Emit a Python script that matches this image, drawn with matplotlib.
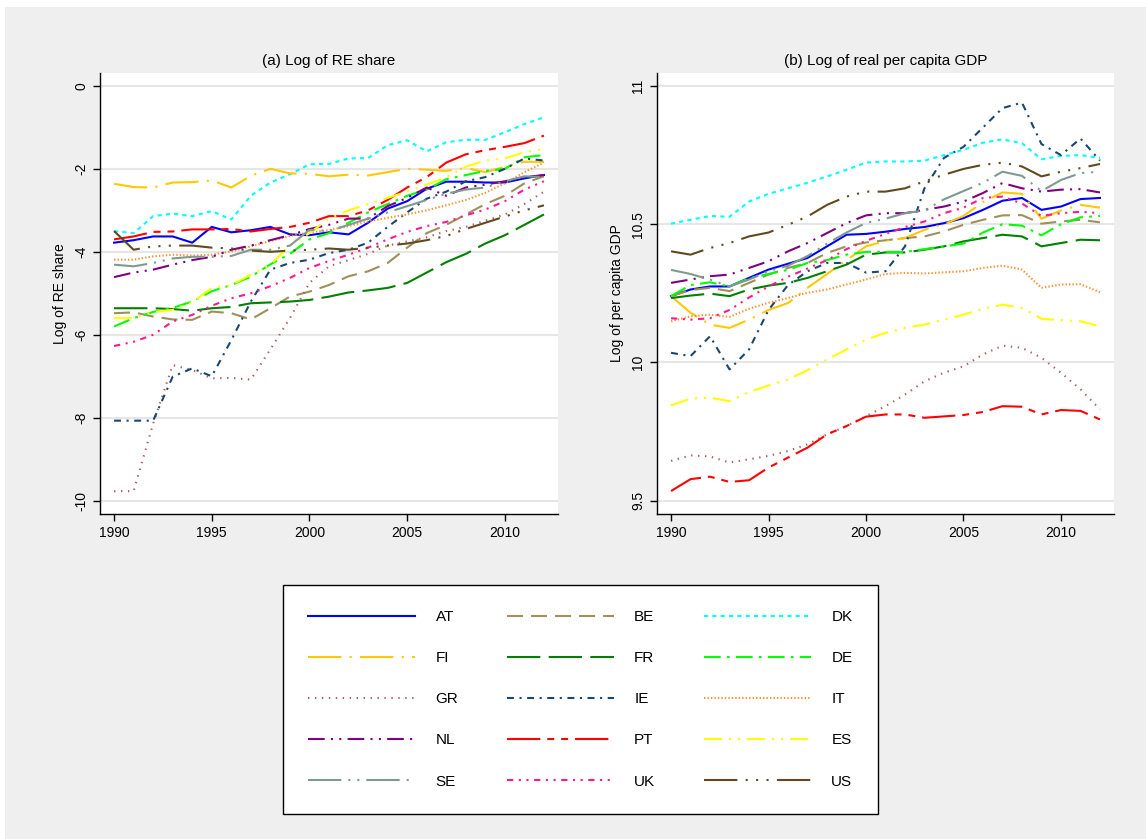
import matplotlib
matplotlib.use("Agg")
import matplotlib.pyplot as plt
from matplotlib.patches import Rectangle

plt.rcParams['font.family'] = ['Liberation Sans', 'DejaVu Sans']
plt.rcParams['lines.scale_dashes'] = False
plt.rcParams['axes.unicode_minus'] = False

years = list(range(1990, 2013))
countries = ["AT", "BE", "DK", "FI", "FR", "DE", "GR", "IE",
             "IT", "NL", "PT", "ES", "SE", "UK", "US"]

# (a) log of RE share
re_at = [-3.78, -3.72, -3.63, -3.63, -3.78, -3.40, -3.53, -3.48, -3.40, -3.58, -3.60, -3.53,
         -3.58, -3.30, -2.96, -2.78, -2.48, -2.31, -2.31, -2.33, -2.33, -2.23, -2.15]
re_be = [-5.48, -5.46, -5.56, -5.63, -5.64, -5.44, -5.48, -5.63, -5.36, -5.08, -4.96, -4.80,
         -4.59, -4.47, -4.27, -3.90, -3.55, -3.35, -3.10, -2.85, -2.65, -2.35, -2.18]
re_dk = [-3.50, -3.55, -3.14, -3.08, -3.14, -3.02, -3.22, -2.65, -2.33, -2.13, -1.89, -1.88,
         -1.75, -1.74, -1.43, -1.31, -1.58, -1.36, -1.30, -1.30, -1.12, -0.92, -0.76]
re_fi = [-2.36, -2.44, -2.45, -2.33, -2.32, -2.28, -2.45, -2.17, -2.00, -2.11, -2.12, -2.18,
         -2.14, -2.16, -2.08, -2.00, -2.02, -2.05, -1.98, -2.08, -1.95, -1.83, -1.83]
re_fr = [-5.36, -5.36, -5.36, -5.38, -5.42, -5.36, -5.33, -5.24, -5.22, -5.20, -5.16, -5.08,
         -4.98, -4.93, -4.87, -4.75, -4.50, -4.25, -4.05, -3.80, -3.60, -3.35, -3.10]
re_de = [-5.80, -5.60, -5.45, -5.35, -5.20, -4.95, -4.80, -4.60, -4.30, -4.05, -3.70, -3.55,
         -3.30, -3.05, -2.85, -2.65, -2.50, -2.25, -2.15, -2.05, -2.00, -1.72, -1.67]
re_gr = [-9.77, -9.77, -8.14, -6.73, -6.85, -7.05, -7.04, -7.08, -6.35, -5.60, -4.75, -4.35,
         -4.20, -4.05, -3.85, -3.75, -3.65, -3.50, -3.40, -3.25, -3.10, -2.85, -2.55]
re_ie = [-8.07, -8.07, -8.07, -7.01, -6.81, -7.00, -6.13, -5.20, -4.43, -4.27, -4.19, -4.03,
         -3.95, -3.78, -3.40, -3.05, -2.72, -2.55, -2.30, -2.20, -2.00, -1.75, -1.80]
re_it = [-4.19, -4.19, -4.11, -4.07, -4.09, -4.07, -3.99, -3.87, -3.74, -3.62, -3.53, -3.48,
         -3.38, -3.27, -3.18, -3.10, -3.00, -2.88, -2.75, -2.58, -2.35, -2.08, -1.85]
re_nl = [-4.61, -4.50, -4.43, -4.31, -4.20, -4.12, -3.95, -3.85, -3.72, -3.60, -3.45, -3.35,
         -3.20, -3.20, -2.90, -2.70, -2.45, -2.65, -2.45, -2.38, -2.30, -2.20, -2.15]
re_pt = [-3.70, -3.63, -3.52, -3.51, -3.46, -3.46, -3.45, -3.51, -3.45, -3.40, -3.30, -3.14,
         -3.14, -3.00, -2.75, -2.45, -2.20, -1.85, -1.65, -1.55, -1.47, -1.38, -1.20]
re_es = [-5.60, -5.60, -5.45, -5.40, -5.22, -4.87, -4.80, -4.55, -4.31, -3.85, -3.55, -3.20,
         -3.00, -2.85, -2.70, -2.55, -2.38, -2.20, -1.95, -1.80, -1.75, -1.60, -1.52]
re_se = [-4.31, -4.35, -4.27, -4.16, -4.12, -4.12, -4.10, -3.95, -3.95, -3.85, -3.47, -3.50,
         -3.35, -3.20, -3.05, -2.90, -2.75, -2.60, -2.50, -2.45, -2.30, -2.18, -2.20]
re_uk = [-6.27, -6.17, -6.00, -5.68, -5.52, -5.30, -5.12, -5.00, -4.83, -4.63, -4.39, -4.22,
         -4.07, -3.90, -3.70, -3.52, -3.38, -3.28, -3.12, -2.98, -2.78, -2.50, -2.30]
re_us = [-3.50, -3.95, -3.87, -3.85, -3.85, -3.90, -3.92, -3.97, -4.00, -3.97, -3.95, -3.92,
         -3.95, -3.90, -3.85, -3.80, -3.72, -3.62, -3.45, -3.30, -3.15, -3.00, -2.88]

# (b) log of real per capita GDP
gdp_at = [10.240, 10.264, 10.275, 10.275, 10.306, 10.336, 10.357, 10.378, 10.420, 10.462, 10.465, 10.473,
          10.483, 10.490, 10.504, 10.522, 10.552, 10.585, 10.595, 10.552, 10.564, 10.591, 10.595]
gdp_be = [10.240, 10.262, 10.270, 10.258, 10.288, 10.318, 10.342, 10.360, 10.396, 10.420, 10.434, 10.442,
          10.450, 10.456, 10.474, 10.498, 10.516, 10.532, 10.533, 10.502, 10.510, 10.516, 10.507]
gdp_dk = [10.502, 10.516, 10.530, 10.527, 10.582, 10.610, 10.630, 10.650, 10.673, 10.697, 10.723, 10.727,
          10.727, 10.730, 10.750, 10.769, 10.795, 10.807, 10.793, 10.735, 10.747, 10.750, 10.740]
gdp_fi = [10.240, 10.180, 10.137, 10.125, 10.155, 10.190, 10.215, 10.270, 10.320, 10.370, 10.420, 10.440,
          10.450, 10.480, 10.500, 10.530, 10.580, 10.615, 10.610, 10.520, 10.550, 10.570, 10.560]
gdp_fr = [10.233, 10.242, 10.249, 10.240, 10.264, 10.278, 10.288, 10.306, 10.330, 10.354, 10.390, 10.398,
          10.398, 10.408, 10.420, 10.438, 10.450, 10.462, 10.456, 10.420, 10.432, 10.444, 10.442]
gdp_de = [10.240, 10.280, 10.290, 10.275, 10.305, 10.320, 10.335, 10.360, 10.370, 10.390, 10.400, 10.400,
          10.400, 10.410, 10.420, 10.430, 10.470, 10.500, 10.495, 10.460, 10.500, 10.525, 10.530]
gdp_gr = [9.644, 9.664, 9.660, 9.638, 9.650, 9.662, 9.680, 9.704, 9.740, 9.770, 9.806, 9.842,
          9.884, 9.932, 9.963, 9.986, 10.029, 10.061, 10.053, 10.017, 9.963, 9.903, 9.830]
gdp_ie = [10.035, 10.023, 10.095, 9.975, 10.047, 10.190, 10.280, 10.330, 10.360, 10.360, 10.325, 10.330,
          10.420, 10.630, 10.740, 10.780, 10.850, 10.920, 10.940, 10.790, 10.750, 10.810, 10.730]
gdp_it = [10.149, 10.167, 10.173, 10.165, 10.194, 10.216, 10.233, 10.252, 10.264, 10.282, 10.300, 10.320,
          10.324, 10.322, 10.326, 10.330, 10.342, 10.350, 10.336, 10.270, 10.282, 10.283, 10.254]
gdp_nl = [10.288, 10.300, 10.312, 10.318, 10.342, 10.366, 10.402, 10.432, 10.468, 10.504, 10.532, 10.540,
          10.540, 10.552, 10.564, 10.582, 10.613, 10.649, 10.630, 10.618, 10.625, 10.627, 10.615]
gdp_pt = [9.535, 9.578, 9.587, 9.568, 9.574, 9.620, 9.656, 9.692, 9.740, 9.770, 9.804, 9.812,
          9.812, 9.800, 9.805, 9.810, 9.821, 9.842, 9.840, 9.812, 9.828, 9.825, 9.794]
gdp_es = [9.845, 9.869, 9.873, 9.860, 9.893, 9.917, 9.939, 9.972, 10.011, 10.047, 10.083, 10.107,
          10.125, 10.137, 10.155, 10.173, 10.194, 10.209, 10.197, 10.158, 10.153, 10.149, 10.131]
gdp_se = [10.335, 10.320, 10.300, 10.275, 10.300, 10.330, 10.350, 10.385, 10.430, 10.470, 10.505, 10.520,
          10.540, 10.550, 10.590, 10.620, 10.650, 10.690, 10.675, 10.620, 10.660, 10.685, 10.690]
gdp_uk = [10.160, 10.155, 10.160, 10.190, 10.235, 10.275, 10.310, 10.340, 10.370, 10.410, 10.440, 10.465,
          10.490, 10.510, 10.540, 10.560, 10.595, 10.600, 10.575, 10.530, 10.540, 10.545, 10.540]
gdp_us = [10.402, 10.390, 10.414, 10.432, 10.456, 10.470, 10.498, 10.528, 10.570, 10.600, 10.618, 10.618,
          10.630, 10.655, 10.679, 10.700, 10.715, 10.723, 10.709, 10.673, 10.690, 10.703, 10.718]

re_series = [re_at, re_be, re_dk, re_fi, re_fr, re_de, re_gr, re_ie,
             re_it, re_nl, re_pt, re_es, re_se, re_uk, re_us]
gdp_series = [gdp_at, gdp_be, gdp_dk, gdp_fi, gdp_fr, gdp_de, gdp_gr, gdp_ie,
              gdp_it, gdp_nl, gdp_pt, gdp_es, gdp_se, gdp_uk, gdp_us]

colors = ['#0000ff', '#a08f5c', '#00ffff', '#ffc800', '#008000', '#00ff00', '#a86060', '#1a476f',
          '#ff9030', '#800080', '#ff0000', '#ffff00', '#7f9a90', '#ff1a8c', '#604a1e']
# dash patterns in points
styles = ['-',
          (0, (11.5, 5.8)),
          (0, (3, 3)),
          (0, (24, 6, 1.5, 6)),
          (0, (24, 6)),
          (0, (12, 4.5, 2, 4.5)),
          (0, (1, 4)),
          (0, (5, 4, 1.5, 4)),
          (0, (1, 1.5)),
          (0, (12, 4.5, 1.5, 4.5, 1.5, 4.5)),
          (0, (24, 5, 5, 5, 5, 5)),
          (0, (13, 5, 1.5, 5, 1.5, 5)),
          (0, (24, 5, 1.5, 5, 1.5, 5)),
          (0, (4.5, 4, 1.5, 4, 1.5, 4)),
          (0, (24, 6, 1.5, 6, 1.5, 6, 1.5, 6))]

W, H = 1146, 839
fig = plt.figure(figsize=(W / 100, H / 100), dpi=100, facecolor='white')
fig.patches.append(Rectangle((5 / W, 0), 1, 1 - 7 / H, transform=fig.transFigure,
                             facecolor='#efefef', edgecolor='none', zorder=-10))

ax1 = fig.add_axes([100 / W, 1 - 514 / H, 458 / W, 441 / H])
ax2 = fig.add_axes([657 / W, 1 - 514 / H, 457 / W, 441 / H])

handles = []
for i in range(len(countries)):
    h, = ax1.plot(years, re_series[i], color=colors[i], linestyle=styles[i], lw=1.5, label=countries[i])
    ax2.plot(years, gdp_series[i], color=colors[i], linestyle=styles[i], lw=1.5)
    handles.append(h)

ax1.set_ylim(-10.32, 0.31)
ax1.set_yticks([0, -2, -4, -6, -8, -10])
ax1.set_title("(a) Log of RE share", fontsize=11, pad=6)
ax1.set_ylabel("Log of RE share", fontsize=10, labelpad=5)

ax2.set_ylim(9.452, 11.047)
ax2.set_yticks([9.5, 10, 10.5, 11])
ax2.set_yticklabels(["9.5", "10", "10.5", "11"])
ax2.set_title("(b) Log of real per capita GDP", fontsize=11, pad=6)
ax2.set_ylabel("Log of per capita GDP", fontsize=10, labelpad=5)

for ax in (ax1, ax2):
    ax.set_xlim(1989.28, 2012.72)
    ax.set_xticks([1990, 1995, 2000, 2005, 2010])
    ax.spines['top'].set_visible(False)
    ax.spines['right'].set_visible(False)
    ax.spines['left'].set_linewidth(1.0)
    ax.spines['bottom'].set_linewidth(1.0)
    ax.tick_params(direction='out', length=5, width=1, labelsize=10)
    for lab in ax.get_yticklabels():
        lab.set_rotation(90)
        lab.set_va('center')
    ax.yaxis.grid(True, color='#e6e6e6', lw=1.5)
    ax.set_axisbelow(True)

# legend laid out row by row like the original (matplotlib fills by column)
order = [0, 3, 6, 9, 12, 1, 4, 7, 10, 13, 2, 5, 8, 11, 14]
leg = fig.legend([handles[k] for k in order], [countries[k] for k in order], ncol=3,
                 loc='upper left', bbox_to_anchor=(283 / W, 1 - 585 / H), fontsize=11,
                 frameon=True, fancybox=False, edgecolor='black', framealpha=1,
                 handlelength=7.0, handletextpad=1.32, columnspacing=3.2,
                 labelspacing=1.77, borderpad=1.66, borderaxespad=0)
leg.get_frame().set_linewidth(1.0)

fig.savefig("out.png", dpi=100, facecolor=fig.get_facecolor())
